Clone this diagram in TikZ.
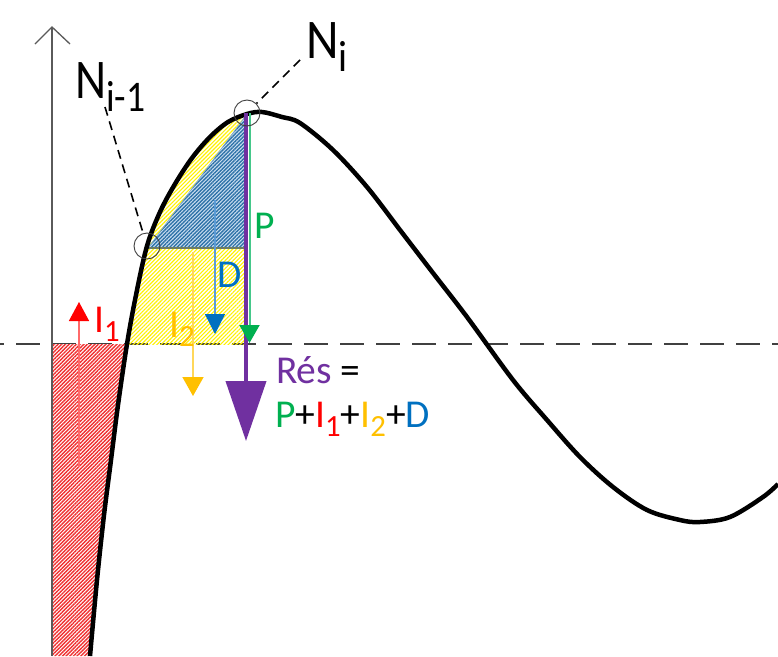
\documentclass[tikz,border=0pt]{standalone}
\usepackage{fontspec}
\setmainfont{Carlito}
\usetikzlibrary{arrows.meta,patterns.meta}
\definecolor{cPurple}{HTML}{7030A0}
\definecolor{cGreen}{HTML}{00B050}
\definecolor{cGreenL}{HTML}{45C88A}
\definecolor{cRed}{HTML}{FF0000}
\definecolor{cRedL}{HTML}{FF6A6A}
\definecolor{cOrange}{HTML}{FFC000}
\definecolor{cOrangeL}{HTML}{FFD75A}
\definecolor{cBlue}{HTML}{0070C0}
\definecolor{cBlueL}{HTML}{5B9BD5}
\definecolor{cHatchBlue}{HTML}{2F73A8}
\definecolor{cHatchRed}{HTML}{F03030}
\definecolor{cHatchYel}{HTML}{FFF200}
\definecolor{cAxis}{HTML}{5A5A5A}
\definecolor{cBase}{HTML}{6E7D64}
\newcommand\lsub[1]{\raisebox{-0.24em}{\scalebox{0.78}{#1}}}
\def\mycurve{plot[smooth,tension=0.55] coordinates {(90,656) (97,580) (104,515) (111,460) (118,405) (127,344) (136,295) (147,246) (160,212) (175,184) (192,158) (210,137) (228,122) (247,114) (262,112) (282,117) (300,123) (333,150) (367,187) (400,230) (433,273) (467,317) (513,380) (547,420) (580,457) (613,487) (647,510) (680,520) (700,522) (730,517) (763,497) (778,484)}}
\tikzset{
  lab/.style={inner sep=0pt, anchor=base west, font=\fontsize{39.5}{42}\selectfont},
  nlab/.style={inner sep=0pt, anchor=base west, font=\fontsize{56}{60}\selectfont},
  ring/.style={circle, draw=black!75, line width=0.9pt, minimum size=26pt, inner sep=0pt},
  leader/.style={draw=black, line width=1.6pt, dash pattern=on 9pt off 6pt},
  redhatch/.style={pattern={Lines[angle=45,distance=2.6pt,line width=1.4pt]}, pattern color=cHatchRed},
  yelhatch/.style={pattern={Lines[angle=45,distance=2.8pt,line width=1.1pt]}, pattern color=cHatchYel},
  bluhatch/.style={pattern={Lines[angle=45,distance=2.6pt,line width=1.4pt]}, pattern color=cHatchBlue},
  vec/.style={line width=1.4pt},
}
\begin{document}
\begin{tikzpicture}[x=1pt,y=-1pt]
\useasboundingbox (0,0) rectangle (778,656);
\fill[white] (0,0) rectangle (778,656);

% horizontal dashed line
\coordinate (hl) at (0,344);
\coordinate (hr) at (778,344);
\draw[draw=black!75, line width=2pt, dash pattern=on 24pt off 12pt, dash phase=20pt] (hl) -- (hr);

% red hatched area
\begin{scope}
  \clip \mycurve -- (778,0) -- (0,0) -- (0,656) -- cycle;
  \fill[white] (52,344) rectangle (135,656);
  \path[redhatch] (52,344) rectangle (135,656);
\end{scope}

% yellow hatched area
\begin{scope}
  \clip \mycurve -- (778,656) -- cycle;
  \path[yelhatch] (52,100) rectangle (247,344);
\end{scope}

% blue triangle
\coordinate (TA) at (148,248);
\coordinate (TB) at (247,114);
\coordinate (TC) at (247,248);
\fill[cBlueL!30] (TA) -- (TB) -- (TC) -- cycle;
\path[bluhatch] (TA) -- (TB) -- (TC) -- cycle;
\draw[draw=cHatchBlue!60, line width=0.6pt] (TA) -- (TB);
\draw[draw=cBase, line width=1.6pt] (TA) -- (TC);

% axis
\coordinate (ax0) at (52,656);
\coordinate (ax1) at (52,27);
\coordinate (axl) at (35,44);
\coordinate (axr) at (70,44);
\draw[cAxis, line width=1.3pt] (ax0) -- (ax1);
\draw[cAxis, line width=1.3pt] (axl) -- (ax1) -- (axr);

% curve
\draw[black, line width=4.5pt] \mycurve;

% I1
\coordinate (i1a) at (79,467);
\coordinate (i1b) at (79,302);
\draw[vec, cRedL, -{Triangle[length=19pt,width=20pt,fill=cRed,color=cRed]}] (i1a) -- (i1b);
% I2
\coordinate (i2a) at (193,252);
\coordinate (i2b) at (193,396);
\draw[vec, cOrangeL, -{Triangle[length=19pt,width=21pt,fill=cOrange,color=cOrange]}] (i2a) -- (i2b);
% D
\coordinate (da) at (215,200);
\coordinate (db) at (215,334);
\draw[vec, cBlueL, -{Triangle[length=20pt,width=20pt,fill=cBlue,color=cBlue]}] (da) -- (db);
% resultant
\coordinate (ra) at (246,113);
\coordinate (rb) at (246,441);
\draw[cPurple, line width=4pt, -{Triangle[length=60pt,width=40pt]}] (ra) -- (rb);
% P
\coordinate (pa) at (249.5,113);
\coordinate (pb) at (249.5,343);
\draw[cGreenL, line width=2pt, -{Triangle[length=18pt,width=20pt,fill=cGreen,color=cGreen]}] (pa) -- (pb);

% points and leaders
\node[ring] (Cm1) at (147,246) {};
\node[ring] (Ci) at (247,113) {};
\coordinate (Lm1) at (105,107);
\coordinate (Li) at (300,60);
\draw[leader] (Lm1) -- (Cm1);
\draw[leader] (Li) -- (Ci);

% labels
\node[nlab] (tNm1) at (75,98) {\scalebox{0.86}[1]{N\lsub{i-1}}};
\node[nlab] (tNi) at (306,58) {\scalebox{0.9}[1]{N\lsub{i}}};
\node[lab, text=cGreen] (tP) at (254,238) {P};
\node[lab, text=cBlue] (tD) at (217,287) {D};
\node[lab, text=cRed] (tI1) at (94,332) {I\lsub{1}};
\node[lab, text=cOrange] (tI2) at (169,337) {I\lsub{2}};
\node[lab] (tRes) at (276,383) {\textcolor{cPurple}{Rés} =};
\node[lab] (tSum) at (275,427) {\textcolor{cGreen}{P}+\textcolor{cRed}{I\lsub{1}}+\textcolor{cOrange}{I\lsub{2}}+\textcolor{cBlue}{D}};
\end{tikzpicture}
\end{document}
